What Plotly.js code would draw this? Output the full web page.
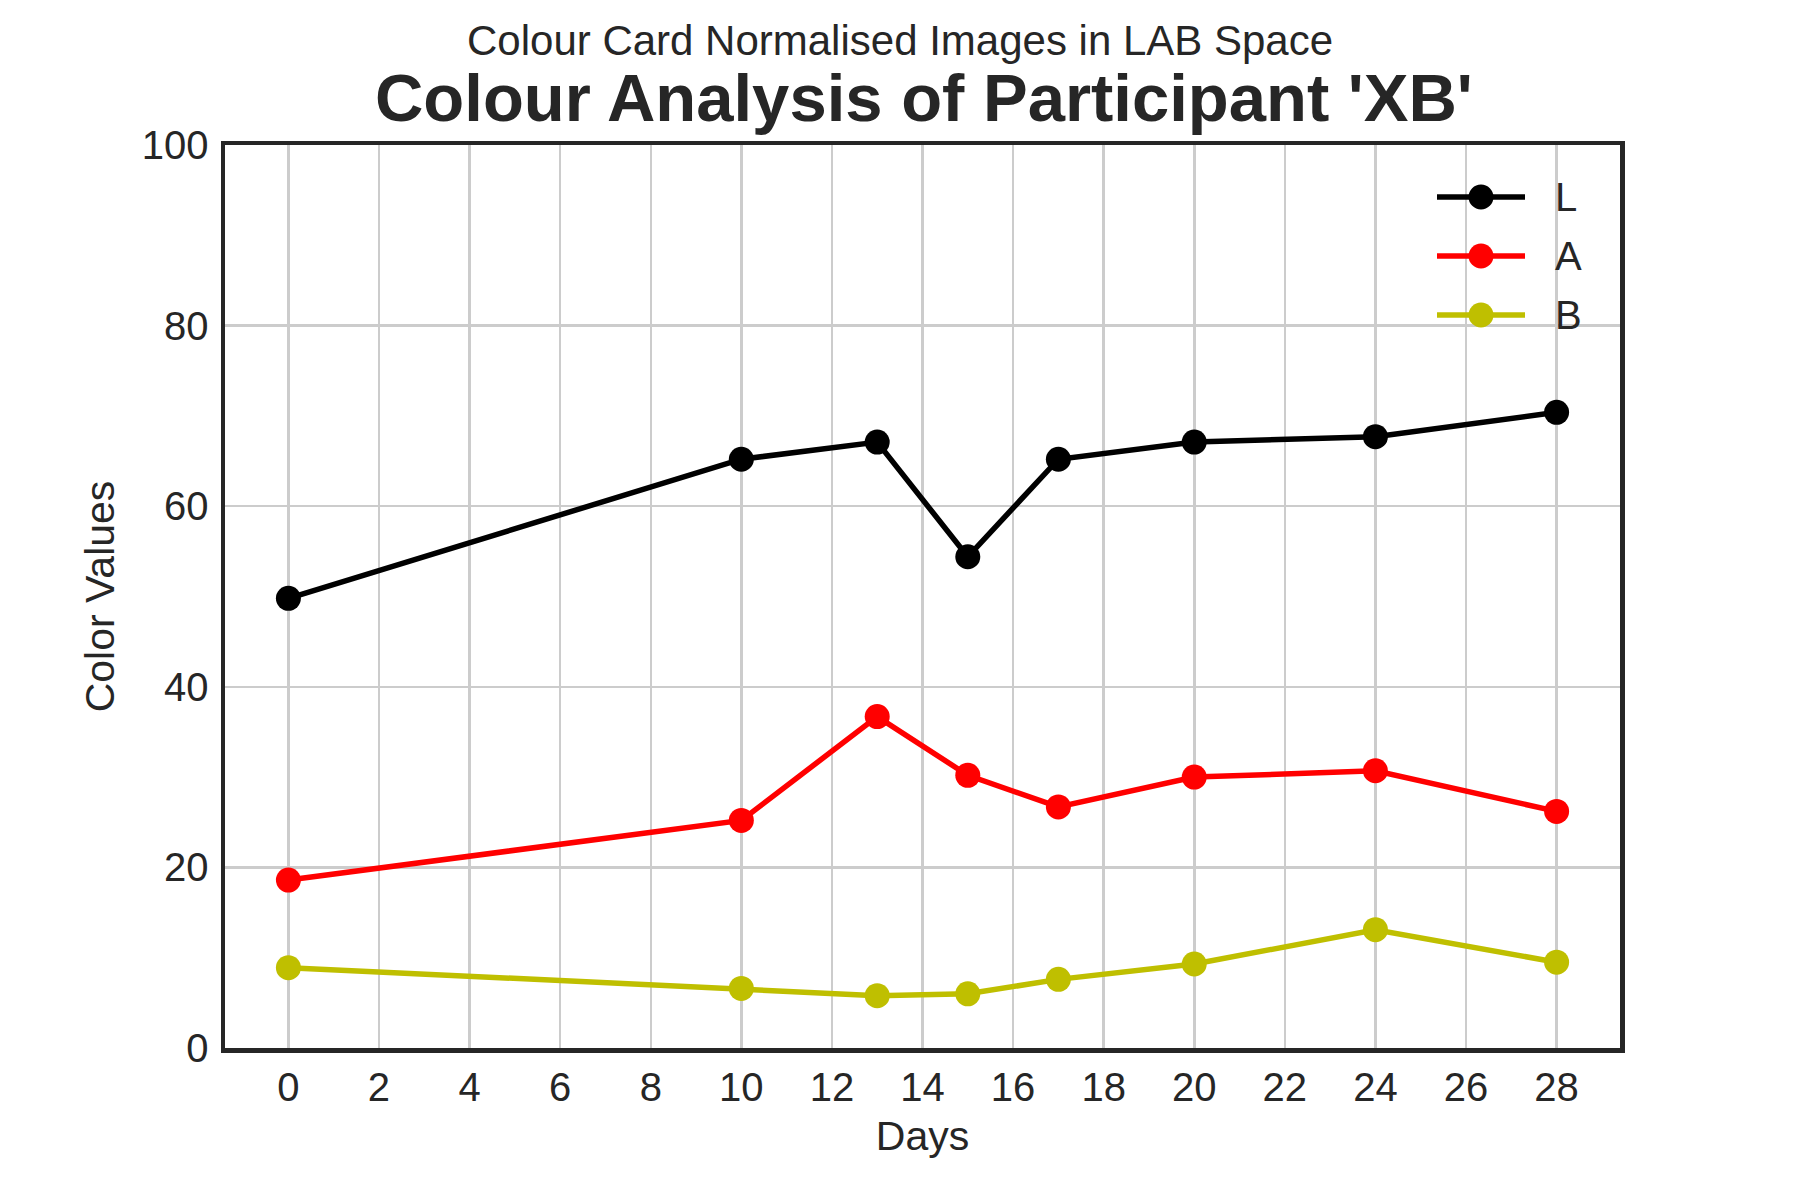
<!DOCTYPE html>
<html>
<head>
<meta charset="utf-8">
<script src="https://cdn.plot.ly/plotly-3.0.1.min.js"></script>
<style>html,body{margin:0;padding:0;background:#fff;}#chart{width:1800px;height:1200px;}</style>
</head>
<body>
<div id="chart"></div>
<script>
const days = [0, 10, 13, 15, 17, 20, 24, 28];
const L_values = [49.8, 65.2, 67.1, 54.4, 65.2, 67.1, 67.7, 70.4];
const A_values = [18.6, 25.2, 36.7, 30.2, 26.7, 30.0, 30.7, 26.2];
const B_values = [8.9, 6.6, 5.8, 6.0, 7.6, 9.3, 13.1, 9.5];
const seriesNames = ["L", "A", "B"];
const seriesColors = ["#000000", "#ff0000", "#bfbf00"];
const titleText = "Colour Analysis of Participant 'XB'";
const subtitleText = "Colour Card Normalised Images in LAB Space";
const xLabel = "Days";
const yLabel = "Color Values";

const FONT = "'Liberation Sans', Arial, sans-serif";
const TXT = "#262626";
const seriesValues = [L_values, A_values, B_values];

// plot box in pixels (for converting legend layout to paper coords)
const W = 1800, H = 1200, ML = 225, MR = 180, MT = 145, MB = 152;
const PW = W - ML - MR, PH = H - MT - MB;
const px = v => (v - ML) / PW;
const py = v => (H - MB - v) / PH;

const traces = seriesNames.map((n, i) => ({
  x: days,
  y: seriesValues[i],
  name: n,
  type: "scatter",
  mode: "lines+markers",
  line: {color: seriesColors[i], width: 5.5},
  marker: {color: seriesColors[i], size: 25},
  showlegend: false
}));

// custom legend (decoration, not data)
const legendShapes = [];
const legendAnnots = [];
seriesNames.forEach((n, i) => {
  const rowY = py(197 + i * 59);
  legendShapes.push({
    type: "line", xref: "paper", yref: "paper",
    x0: px(1437), x1: px(1525), y0: rowY, y1: rowY,
    line: {color: seriesColors[i], width: 5.5}
  });
  legendShapes.push({
    type: "circle", xref: "paper", yref: "paper",
    xsizemode: "pixel", ysizemode: "pixel",
    xanchor: px(1481), yanchor: rowY,
    x0: -12.5, x1: 12.5, y0: -12.5, y1: 12.5,
    fillcolor: seriesColors[i], line: {width: 0}
  });
  legendAnnots.push({
    text: n, xref: "paper", yref: "paper",
    x: px(1553), y: rowY, xanchor: "left", yanchor: "middle",
    showarrow: false,
    font: {family: FONT, size: 40, color: TXT}
  });
});

const axisCommon = {
  showline: true,
  mirror: true,
  linecolor: TXT,
  linewidth: 4.5,
  showgrid: true,
  gridcolor: "#cccccc",
  gridwidth: 2.5,
  zeroline: false,
  ticks: "",
  tickfont: {family: FONT, size: 40, color: TXT}
};

const layout = {
  width: W,
  height: H,
  paper_bgcolor: "#ffffff",
  plot_bgcolor: "#ffffff",
  margin: {l: ML, r: MR, t: MT, b: MB},
  font: {family: FONT, color: TXT},
  title: {
    text: "<b>" + titleText + "</b>",
    font: {family: FONT, size: 67, color: TXT},
    x: 0.501, xanchor: "center",
    y: 1 - 98 / 1200, yanchor: "middle",
    xref: "paper"
  },
  annotations: [{
    text: subtitleText,
    xref: "paper", yref: "paper",
    x: px(900), y: py(40),
    xanchor: "center", yanchor: "middle",
    showarrow: false,
    font: {family: FONT, size: 42, color: TXT}
  }].concat(legendAnnots),
  shapes: legendShapes,
  xaxis: Object.assign({}, axisCommon, {
    range: [-1.4, 29.4],
    tick0: 0, dtick: 2,
    ticklabelstandoff: 0,
    title: {text: xLabel, font: {family: FONT, size: 41, color: TXT}, standoff: 15}
  }),
  yaxis: Object.assign({}, axisCommon, {
    range: [0, 100],
    tick0: 0, dtick: 20,
    ticklabelstandoff: 4,
    title: {text: yLabel, font: {family: FONT, size: 41, color: TXT}, standoff: 16}
  }),
  showlegend: false
};

Plotly.newPlot("chart", traces, layout, {displayModeBar: false, staticPlot: true});
</script>
</body>
</html>
